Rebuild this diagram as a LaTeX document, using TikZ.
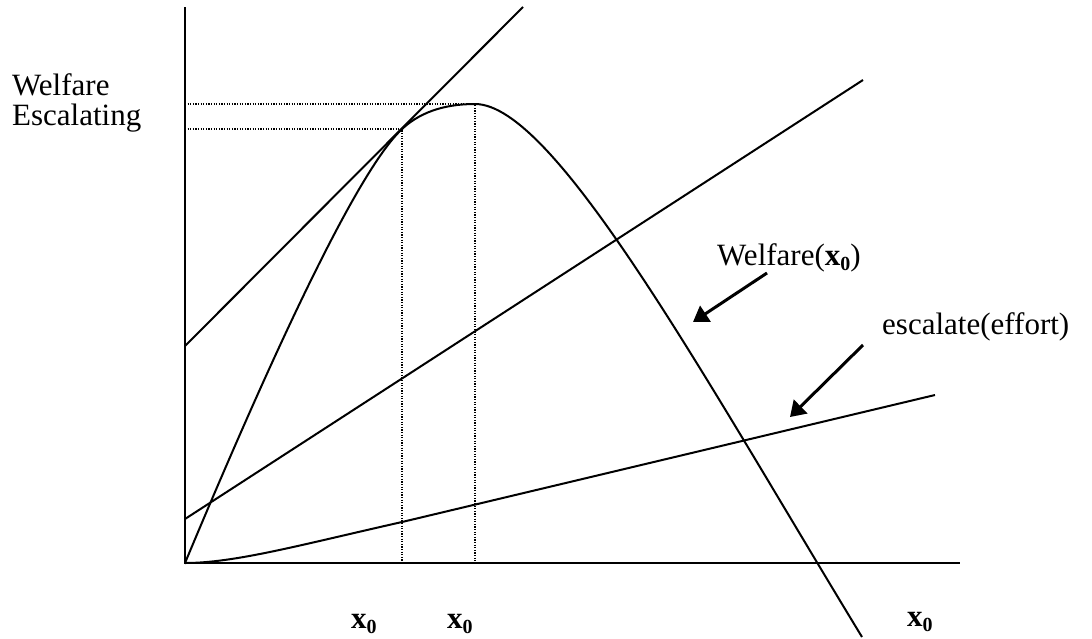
\documentclass[tikz,border=0pt]{standalone}
\usepackage{fontspec}
\setmainfont{Liberation Serif}
\usetikzlibrary{arrows.meta}
\newcommand{\xzero}{\textbf{x}\raisebox{-5pt}{\fontsize{20}{20}\selectfont\bfseries 0}}
\tikzset{
  curveline/.style={line width=2pt, line join=round},
  axisline/.style={line width=2pt},
  guide/.style={line width=1.9pt, dash pattern=on 1.2pt off 1.4pt},
  pointer/.style={line width=3pt, -{Triangle[length=15pt,width=19pt]}},
  lbl/.style={inner sep=0pt, anchor=base west, font=\fontsize{31}{30}\selectfont}
}
\begin{document}
\begin{tikzpicture}[x=1pt,y=-1pt]
\useasboundingbox (0,0) rectangle (1092,638);
% coordinates
\coordinate (O) at (185,563);
\coordinate (ytop) at (185,7);
\coordinate (xend) at (960,563);
\coordinate (peak) at (475,104);
\coordinate (tan) at (400,131);
\coordinate (tanv) at (402,129);
\coordinate (peakfoot) at (475,563);
\coordinate (tanfoot) at (402,563);
\coordinate (peakax) at (185,104);
\coordinate (tanax) at (185,129);
\coordinate (cend) at (862,637);
\coordinate (s1) at (185,346);
\coordinate (s2) at (523,7);
\coordinate (m1) at (185,519);
\coordinate (m2) at (863,80);
\coordinate (l1) at (402,522);
\coordinate (l2) at (935,395);
\coordinate (wt) at (767,273);
\coordinate (wh) at (693,322);
\coordinate (et) at (863,345);
\coordinate (eh) at (790,417);
% axes
\draw[axisline] (ytop) -- (O) -- (xend);
% dotted guides
\draw[guide] (peakax) -- (peak) -- (peakfoot);
\draw[guide] (tanax) -- (tanv) -- (tanfoot);
% straight lines
\draw[curveline] (s1) -- (s2);
\draw[curveline] (m1) -- (m2);
\draw[curveline] (O) .. controls (235,563) and (300,545) .. (l1) -- (l2);
% welfare curve
\draw[curveline] (O) .. controls (289,314) and (361,170) .. (tan)
  .. controls (418,113) and (443,104) .. (peak)
  .. controls (555,104) and (704.5,378) .. (cend);
% arrows
\draw[pointer] (wt) -- (wh);
\draw[pointer] (et) -- (eh);
% labels
\node[lbl] (wel1) at (12,95) {Welfare};
\node[lbl] (wel2) at (12,125) {Escalating};
\node[lbl] (welx) at (717,265) {Welfare(\xzero)};
\node[lbl] (esc) at (882,334) {escalate(effort)};
\node[lbl] (xa) at (351,628) {\xzero};
\node[lbl] (xb) at (447,628) {\xzero};
\node[lbl] (xc) at (907,626) {\xzero};
\end{tikzpicture}
\end{document}
